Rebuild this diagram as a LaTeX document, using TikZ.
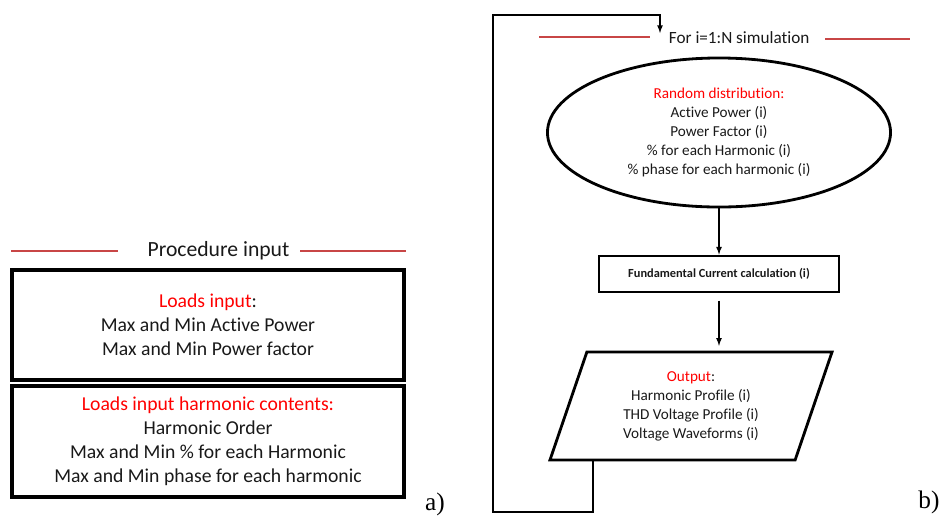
\documentclass[tikz,border=0pt]{standalone}
\usepackage{fontspec}
\setmainfont{Carlito}[Ligatures=NoCommon]
\newfontfamily\panelfont{Liberation Serif}
\usetikzlibrary{shapes.geometric,arrows,positioning}

\begin{document}
\begin{tikzpicture}[x=0.025cm,y=-0.025cm,>=latex]
  % Colors
  \colorlet{headcolor}{red}
  \definecolor{rulecolor}{RGB}{200,70,70}
  \colorlet{textcolor}{black!90}

  % Styles
  \tikzstyle{red rule}=[rulecolor,line width=0.8pt]
  \tikzstyle{input box}=[draw,line width=2.4pt,minimum width=9.8cm,align=center,
    text=textcolor,font=\fontsize{14}{17}\selectfont]
  \tikzstyle{flow text}=[align=center,text=textcolor,font=\fontsize{10.8}{13.5}\selectfont]
  \tikzstyle{link}=[->,line width=0.9pt]
  \tikzstyle{panel label}=[font=\panelfont\fontsize{18}{18}\selectfont]

  \useasboundingbox (0,0) rectangle (942,516);

  % a) procedure input
  \node[text=textcolor,font=\fontsize{15.4}{17}\selectfont] (proc) at (218.5,251) {Procedure input};
  \draw[red rule] (11,251) -- (118,251);
  \draw[red rule] (300,251) -- (406,251);

  \node[input box,minimum height=2.75cm] (loads) at (208,325)
    {{\color{headcolor}Loads input}:\\ Max and Min Active Power\\ Max and Min Power factor};
  \node[input box,minimum height=2.775cm] (harm) at (208,441.5)
    {{\color{headcolor}Loads input harmonic contents:}\\ Harmonic Order\\
     Max and Min \% for each Harmonic\\ Max and Min phase for each harmonic};

  \node[panel label] (lbla) at (435,504) {a)};

  % b) simulation loop
  \node[flow text,anchor=west,font=\fontsize{12.2}{14}\selectfont] (fortxt) at (664,38) {For i=1:N simulation};
  \draw[red rule] (539,37) -- (650,37);
  \draw[red rule] (825,39) -- (910,39);

  \node[flow text,draw=black,ellipse,line width=2pt,inner sep=0pt,
    minimum width=8.575cm,minimum height=3.725cm] (rand) at (719,132.5)
    {{\color{headcolor}Random distribution:}\\ Active Power (i)\\ Power Factor (i)\\
     \% for each Harmonic (i)\\ \% phase for each harmonic (i)};

  \node[draw,line width=2pt,minimum width=6cm,minimum height=0.9cm,
    font=\bfseries\fontsize{8.8}{10}\selectfont,text=textcolor] (calc) at (719,274)
    {Fundamental Current calculation (i)};

  \node[flow text,draw=black,trapezium,trapezium left angle=62,trapezium right angle=118,
    trapezium stretches body,line width=2pt,inner sep=0pt,
    minimum width=7.05cm,minimum height=2.7cm] (out) at (691,406)
    {{\color{headcolor}Output}:\\ Harmonic Profile (i)\\ THD Voltage Profile (i)\\ Voltage Waveforms (i)};

  \node[panel label] (lblb) at (929,502) {b)};

  % Lines
  \coordinate (loopend) at (660,33);
  \draw[link] (rand.south) -- (calc.north);
  \draw[link] ([yshift=-0.18cm]calc.south) -- ([yshift=0.12cm]calc.south |- out.top side);
  \draw[link] ([xshift=1.125cm]out.bottom left corner) |- (493,512) |- (660,15) -- (loopend);

\end{tikzpicture}
\end{document}
